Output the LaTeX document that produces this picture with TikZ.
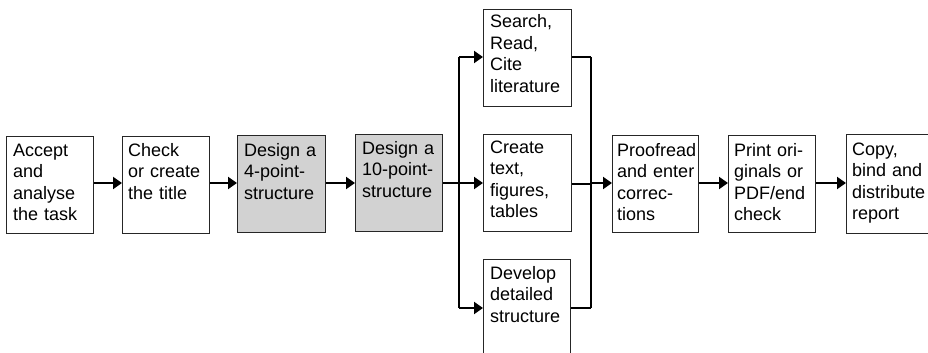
\documentclass[tikz,border=0pt]{standalone}
\usepackage{fontspec}
\setmainfont{Liberation Sans}
\usetikzlibrary{arrows.meta,calc}
\tikzset{
  box/.style={draw=black!85, line width=1.4pt, rectangle, inner sep=0pt, anchor=north west},
  graybox/.style={box, fill=gray!35},
  txt/.style={anchor=base west, align=left, inner sep=0pt, text width=90pt,
    font=\fontsize{18}{21.5}\selectfont},
  conn/.style={draw=black, line width=2pt},
  arr/.style={conn, -{Triangle[length=9pt,width=12pt]}},
}
\begin{document}
\begin{tikzpicture}[x=1pt,y=-1pt]
\useasboundingbox (0,0) rectangle (928,353);
\clip (0,0) rectangle (928,353);
% boxes
\node[box, minimum width=87pt, minimum height=97pt] (b1) at (6,136) {};
\node[box, minimum width=87pt, minimum height=97pt] (b2) at (122,136) {};
\node[graybox, minimum width=88pt, minimum height=97pt] (b3) at (237,135) {};
\node[graybox, minimum width=87pt, minimum height=97pt] (b4) at (355,134) {};
\node[box, minimum width=88pt, minimum height=97pt] (p1) at (483,9) {};
\node[box, minimum width=88pt, minimum height=97pt] (p2) at (483,134) {};
\node[box, minimum width=87pt, minimum height=110pt] (p3) at (483,259) {};
\node[box, minimum width=86pt, minimum height=97pt] (b5) at (612,135) {};
\node[box, minimum width=87pt, minimum height=97pt] (b6) at (728,135) {};
\node[box, minimum width=100pt, minimum height=99pt] (b7) at (846,134) {};
% texts
\node[txt] (t1) at ([shift={(7,20)}]b1.north west) {Accept\\and\\analyse\\the task};
\node[txt] (t2) at ([shift={(6,20)}]b2.north west) {Check\\or create\\the title};
\node[txt] (t3) at ([shift={(7,21)}]b3.north west) {Design a\\4-point-\\structure};
\node[txt] (t4) at ([shift={(7,20)}]b4.north west) {Design a\\10-point-\\structure};
\node[txt] (tp1) at ([shift={(7,19)}]p1.north west) {Search,\\Read,\\Cite\\literature};
\node[txt] (tp2) at ([shift={(7,19)}]p2.north west) {Create\\text,\\figures,\\tables};
\node[txt] (tp3) at ([shift={(7,20)}]p3.north west) {Develop\\detailed\\structure};
\node[txt] (t5) at ([shift={(5,21)}]b5.north west) {Proofread\\and enter\\correc-\\tions};
\node[txt] (t6) at ([shift={(6,21)}]b6.north west) {Print ori-\\ginals or\\PDF/end\\check};
\node[txt] (t7) at ([shift={(6,21)}]b7.north west) {Copy,\\bind and\\distribute\\report};
% junction coordinates
\coordinate (sT) at (459,57);
\coordinate (sM) at (459,183);
\coordinate (sB) at (459,308);
\coordinate (cT) at (591,57);
\coordinate (cM) at (591,183);
\coordinate (cB) at (591,308);
% connectors
\draw[arr] (b1.east |- 0,183) -- (b2.west |- 0,183);
\draw[arr] (b2.east |- 0,183) -- (b3.west |- 0,183);
\draw[arr] (b3.east |- 0,183) -- (b4.west |- 0,183);
\draw[conn] (b4.east |- 0,183) -- (sM);
\draw[conn] (sT) -- (sB);
\draw[arr] (sT) -- (p1.west |- sT);
\draw[arr] (sM) -- (p2.west |- sM);
\draw[arr] (sB) -- (p3.west |- sB);
\draw[conn] (p1.east |- cT) -- (cT);
\draw[conn] (p2.east |- 0,184) -- (591,184);
\draw[conn] (p3.east |- cB) -- (cB);
\draw[conn] (cT) -- (cB);
\draw[arr] (cM) -- (b5.west |- cM);
\draw[arr] (b5.east |- 0,183) -- (b6.west |- 0,183);
\draw[arr] (b6.east |- 0,183) -- (b7.west |- 0,183);
\end{tikzpicture}
\end{document}
